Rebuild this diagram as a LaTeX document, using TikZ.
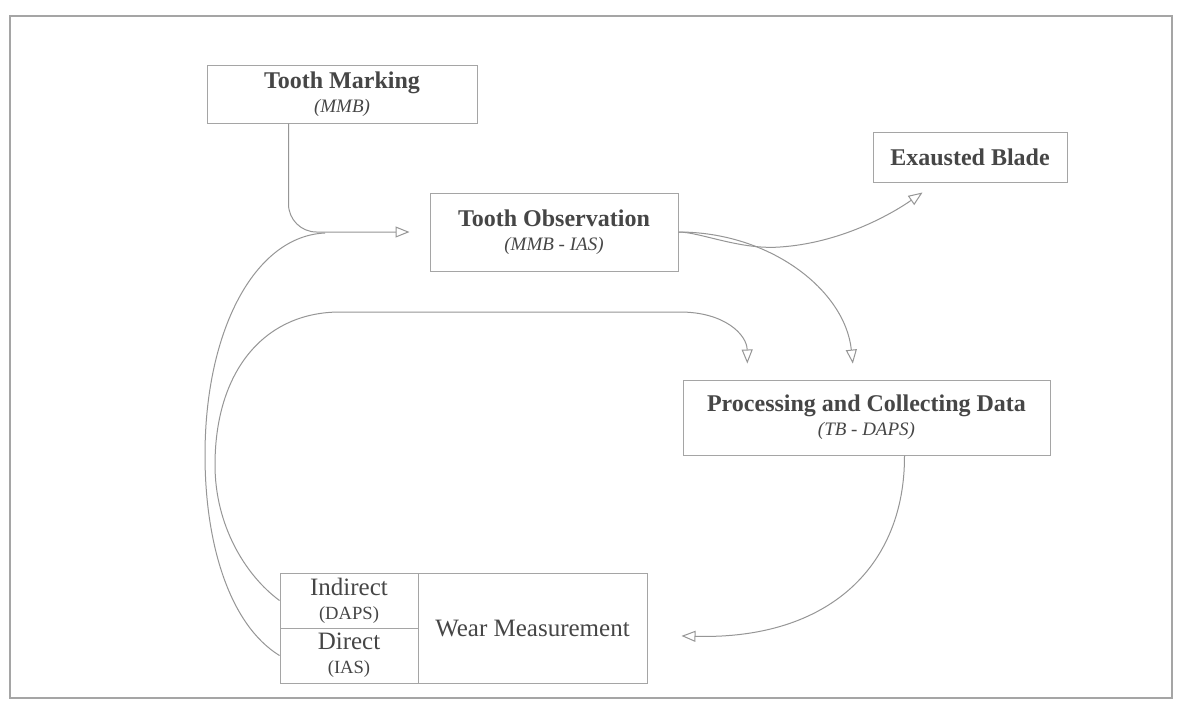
\documentclass[tikz,border=0pt]{standalone}
\usepackage{fontspec}
\setmainfont{Liberation Serif}
\usetikzlibrary{arrows.meta}
\begin{document}
\begin{tikzpicture}[x=0.5pt,y=-0.5pt,
  box/.style={draw=boxColor,line width=0.5pt,inner sep=0pt,align=center,text=textColor},
  link/.style={draw=lineColor,line width=0.5pt,-{Triangle[open,length=7pt,width=5.5pt]}},
  plain/.style={draw=lineColor,line width=0.5pt},
  ttl/.style={font=\bfseries\fontsize{12}{13.5}\selectfont},
  sub/.style={font=\itshape\fontsize{9.5}{11}\selectfont}]
\definecolor{fillColor}{RGB}{255,255,255}
\definecolor{boxColor}{RGB}{165,165,165}
\definecolor{lineColor}{RGB}{150,150,150}
\definecolor{textColor}{RGB}{70,70,70}
\path[use as bounding box,fill=fillColor] (0,0) rectangle (1179,709);
\draw[boxColor,line width=0.6pt] (10,16) rectangle (1172,698);

% boxes
\node[box,minimum width=135pt,minimum height=29pt] (mark) at (342,94)
  {\fontsize{12}{13.5}\selectfont\bfseries Tooth Marking\\{\itshape\fontsize{9.5}{11}\selectfont (MMB)}};
\node[box,minimum width=124pt,minimum height=39pt] (obs) at (554,232)
  {\fontsize{12}{13.5}\selectfont\bfseries Tooth Observation\\{\mdseries\itshape\fontsize{9.5}{11}\selectfont (MMB - IAS)}};
\node[box,minimum width=97pt,minimum height=25pt] (blade) at (970,157)
  {\fontsize{12}{13.5}\selectfont\bfseries Exausted Blade};
\node[box,minimum width=183.5pt,minimum height=37.5pt] (proc) at (866.5,417.5)
  {\fontsize{12}{13.5}\selectfont\bfseries Processing and Collecting Data\\{\mdseries\itshape\fontsize{9.5}{11}\selectfont (TB - DAPS)}};
\node[box,minimum width=69pt,minimum height=27.5pt] (indir) at (349,600.5)
  {\fontsize{12.5}{12.5}\selectfont Indirect\\{\fontsize{9.3}{11}\selectfont (DAPS)}};
\node[box,minimum width=69pt,minimum height=27.5pt] (dir) at (349,655.5)
  {\fontsize{12.5}{12.5}\selectfont Direct\\{\fontsize{9.3}{11}\selectfont (IAS)}};
\node[box,minimum width=114.5pt,minimum height=55pt] (wear) at (532.5,628)
  {\fontsize{12.5}{14}\selectfont Wear Measurement};

% connectors
\coordinate (join) at (325,233);
\draw[link,rounded corners=14pt,shorten >=10pt] ([xshift=41pt]mark.south west) |- (obs.west);
\draw[plain] (dir.west) .. controls (230,625) and (205,545) .. (205,455)
  .. controls (205,330) and (255,236) .. (join);
\draw[link,shorten >=8pt] (indir.west) .. controls (245,575) and (215,525) .. (215,465)
  .. controls (215,370) and (265,312) .. (340,312) -- (680,312)
  .. controls (725,312) and (747,335) .. ([xshift=32.5pt]proc.north west);
\draw[link] (obs.east) .. controls (700,232) and (740,250) .. (780,247)
  .. controls (840,243) and (890,215) .. ([xshift=25pt,yshift=-5pt]blade.south west);
\draw[link,shorten >=8pt] (obs.east) .. controls (770,232) and (845,290) .. ([xshift=86pt]proc.north west);
\draw[link,shorten >=17pt] ([xshift=19pt]proc.south) .. controls (905,565) and (830,640) .. ([yshift=-3.5pt]wear.east);
\end{tikzpicture}
\end{document}
